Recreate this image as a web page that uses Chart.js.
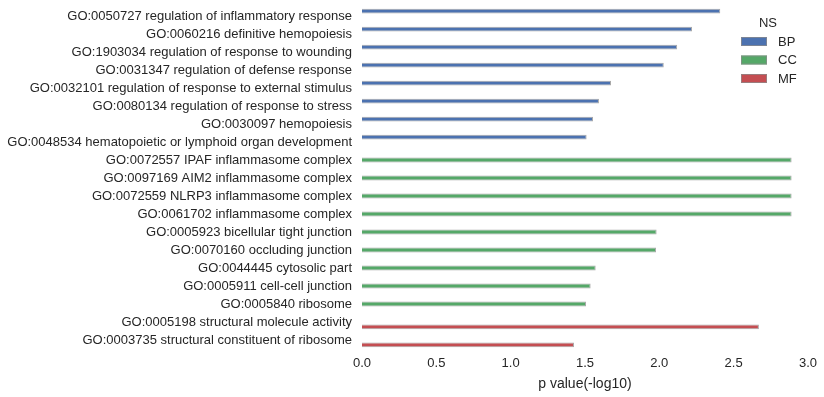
<!DOCTYPE html>
<html>
<head>
<meta charset="utf-8">
<script src="https://cdn.jsdelivr.net/npm/chart.js@4"></script>
<style>
  html, body { margin: 0; padding: 0; background: #ffffff; }
  #wrap { width: 824px; height: 397px; position: relative; }
</style>
</head>
<body>
<div id="wrap"><canvas id="c" width="824" height="397"></canvas></div>
<script>
const categories = [
  "GO:0050727 regulation of inflammatory response",
  "GO:0060216 definitive hemopoiesis",
  "GO:1903034 regulation of response to wounding",
  "GO:0031347 regulation of defense response",
  "GO:0032101 regulation of response to external stimulus",
  "GO:0080134 regulation of response to stress",
  "GO:0030097 hemopoiesis",
  "GO:0048534 hematopoietic or lymphoid organ development",
  "GO:0072557 IPAF inflammasome complex",
  "GO:0097169 AIM2 inflammasome complex",
  "GO:0072559 NLRP3 inflammasome complex",
  "GO:0061702 inflammasome complex",
  "GO:0005923 bicellular tight junction",
  "GO:0070160 occluding junction",
  "GO:0044445 cytosolic part",
  "GO:0005911 cell-cell junction",
  "GO:0005840 ribosome",
  "GO:0005198 structural molecule activity",
  "GO:0003735 structural constituent of ribosome"
];
const seriesNames = ["BP", "CC", "MF"];
const bpValues = [2.41, 2.22, 2.12, 2.03, 1.675, 1.594, 1.554, 1.511, null, null, null, null, null, null, null, null, null, null, null];
const ccValues = [null, null, null, null, null, null, null, null, 2.89, 2.89, 2.89, 2.89, 1.982, 1.978, 1.572, 1.538, 1.507, null, null];
const mfValues = [null, null, null, null, null, null, null, null, null, null, null, null, null, null, null, null, null, 2.67, 1.426];
const xTicks = [0.0, 0.5, 1.0, 1.5, 2.0, 2.5, 3.0];
const legendTitle = "NS";
const xTitle = "p value(-log10)";

const colors = ["#4C72B0", "#55A868", "#C44E52"];
const edge = "rgba(140,140,140,0.75)";
const FONT = "'Liberation Sans', Arial, sans-serif";
const TXT = "#262626";

const legendPlugin = {
  id: "insideLegend",
  afterDraw(chart) {
    const ctx = chart.ctx;
    ctx.save();
    ctx.font = "13px " + FONT;
    ctx.fillStyle = TXT;
    ctx.textAlign = "center";
    ctx.textBaseline = "middle";
    ctx.fillText(legendTitle, 768, 23);
    const boxX = 741, boxW = 26, boxH = 9;
    const ys = [41.5, 60, 78.5];
    seriesNames.forEach((name, i) => {
      ctx.fillStyle = colors[i];
      ctx.fillRect(boxX, ys[i] - boxH / 2, boxW, boxH);
      ctx.strokeStyle = edge;
      ctx.lineWidth = 1;
      ctx.strokeRect(boxX + 0.5, ys[i] - boxH / 2 + 0.5, boxW - 1, boxH - 1);
      ctx.fillStyle = TXT;
      ctx.textAlign = "left";
      ctx.fillText(name, 778, ys[i] + 0.5);
    });
    ctx.restore();
  }
};

const datasets = [bpValues, ccValues, mfValues].map((vals, i) => ({
  label: seriesNames[i],
  data: vals,
  backgroundColor: colors[i],
  borderColor: edge,
  borderWidth: 1,
  categoryPercentage: 0.8,
  barPercentage: 1.0
}));

new Chart(document.getElementById("c"), {
  type: "bar",
  data: { labels: categories, datasets },
  options: {
    indexAxis: "y",
    responsive: false,
    animation: false,
    devicePixelRatio: 1,
    layout: { padding: { top: 7, right: 16, left: 0, bottom: 0 } },
    plugins: {
      legend: { display: false },
      tooltip: { enabled: false }
    },
    scales: {
      x: {
        min: 0, max: 3,
        afterBuildTicks(axis) { axis.ticks = xTicks.map(v => ({ value: v })); },
        grid: { display: false, drawTicks: false },
        border: { display: false },
        ticks: {
          padding: 7,
          color: TXT,
          font: { family: FONT, size: 13 },
          callback: (v) => Number(v).toFixed(1),
          maxRotation: 0
        },
        title: {
          display: true, text: xTitle, color: TXT,
          font: { family: FONT, size: 14 },
          padding: { top: 2, bottom: 4 }
        },
        afterFit(axis) { axis.height = 48; axis.paddingLeft = 0; }
      },
      y: {
        grid: { display: false, drawTicks: false },
        border: { display: false },
        ticks: {
          padding: 10,
          color: TXT,
          font: { family: FONT, size: 13 },
          autoSkip: false
        },
        afterFit(axis) { axis.width = 362; axis.paddingTop = 0; axis.paddingBottom = 0; }
      }
    }
  },
  plugins: [legendPlugin]
});
</script>
</body>
</html>
